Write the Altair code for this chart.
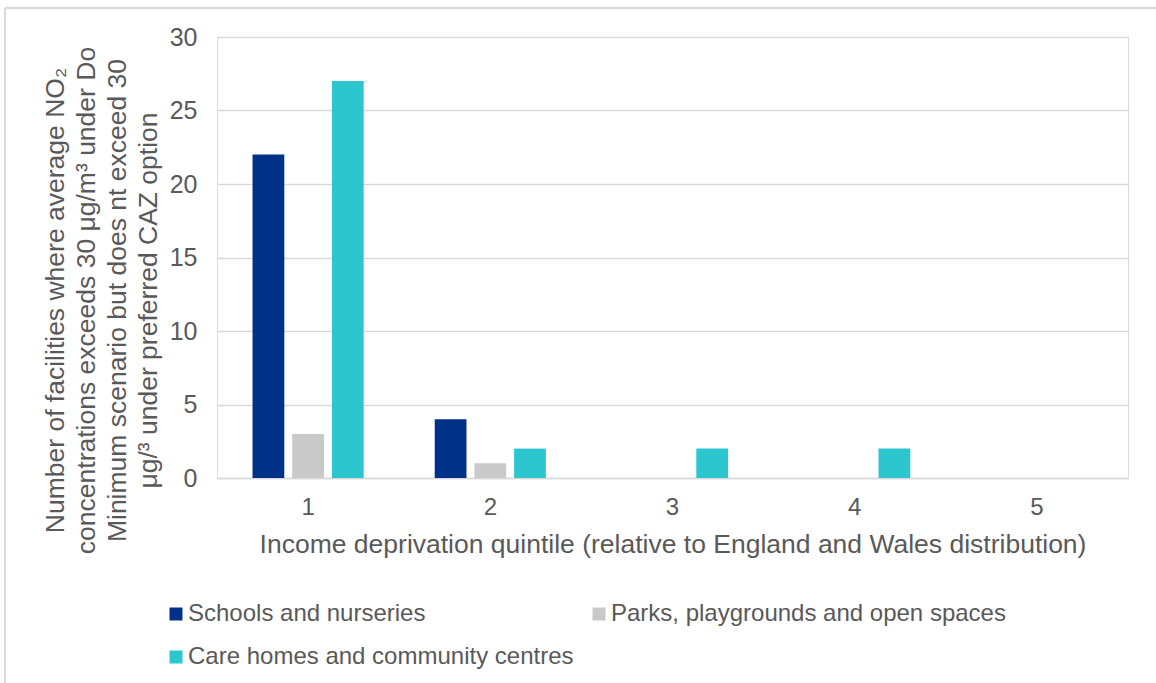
import altair as alt
import pandas as pd

quintiles = ["1", "2", "3", "4", "5"]
series = ["Schools and nurseries", "Parks, playgrounds and open spaces", "Care homes and community centres"]
schools = [22, 4, 0, 0, 0]
parks = [3, 1, 0, 0, 0]
care = [27, 2, 2, 2, 0]
colors = ["#003087", "#c9c9c9", "#2cc6ce"]

rows = []
for s, vals in zip(series, [schools, parks, care]):
    for q, v in zip(quintiles, vals):
        rows.append({"Quintile": q, "Series": s, "Value": v})
df = pd.DataFrame(rows)

FONT = "Liberation Sans"
TXT = "#595959"

bars = alt.Chart(df).mark_bar().encode(
    x=alt.X("Quintile:N", sort=quintiles,
            scale=alt.Scale(paddingInner=0.39, paddingOuter=0.195),
            axis=alt.Axis(title="Income deprivation quintile (relative to England and Wales distribution)",
                          labelAngle=0, ticks=False, domain=True, domainColor="#d9d9d9", domainWidth=1.5,
                          labelFontSize=24, labelColor=TXT, labelFont=FONT, labelPadding=17,
                          titleFontSize=26.5, titleColor=TXT, titleFont=FONT, titleFontWeight="normal",
                          titlePadding=12)),
    xOffset=alt.XOffset("Series:N", sort=series, scale=alt.Scale(paddingInner=0.2, paddingOuter=0)),
    y=alt.Y("Value:Q", scale=alt.Scale(domain=[0, 30]),
            axis=alt.Axis(values=[0, 5, 10, 15, 20, 25, 30], ticks=False, domain=False,
                          gridColor="#d9d9d9", gridWidth=1.5,
                          labelFontSize=25, labelColor=TXT, labelFont=FONT, labelPadding=20,
                          title=["Number of facilities where average NO₂",
                                 "concentrations exceeds 30 μg/m³ under Do",
                                 "Minimum scenario but does nt exceed 30",
                                 "μg/³ under preferred CAZ option"],
                          titleFontSize=26.5, titleColor=TXT, titleFont=FONT, titleFontWeight="normal",
                          titleAngle=-90, titleAlign="center", titleBaseline="middle",
                          titleX=-162, titleY=263, titleLineHeight=31)),
    color=alt.Color("Series:N", sort=series,
                    scale=alt.Scale(domain=series, range=colors),
                    legend=alt.Legend(title=None, orient="none", legendX=-53, legendY=565,
                                      direction="horizontal", columns=2, symbolType="square",
                                      symbolSize=169, symbolStrokeWidth=0, labelFontSize=24,
                                      labelColor=TXT, labelFont=FONT, labelOffset=0,
                                      columnPadding=13, rowPadding=19, labelLimit=500)),
)

frame_top = alt.Chart(df).mark_rule(color="#d9d9d9", strokeWidth=1.5).encode(
    x=alt.value(-212), x2=alt.value(950), y=alt.value(-29))
frame_left = alt.Chart(df).mark_rule(color="#d9d9d9", strokeWidth=1.5).encode(
    x=alt.value(-212), y=alt.value(-29), y2=alt.value(660))

chart = alt.layer(bars, frame_top, frame_left).properties(
    width=911, height=441,
    autosize=alt.AutoSizeParams(type="none"),
    padding={"left": 217, "top": 37, "right": 28, "bottom": 205},
).configure_view(stroke=None).configure(background="white")

chart.save("out.html", embed_options={"renderer": "svg", "actions": False})
